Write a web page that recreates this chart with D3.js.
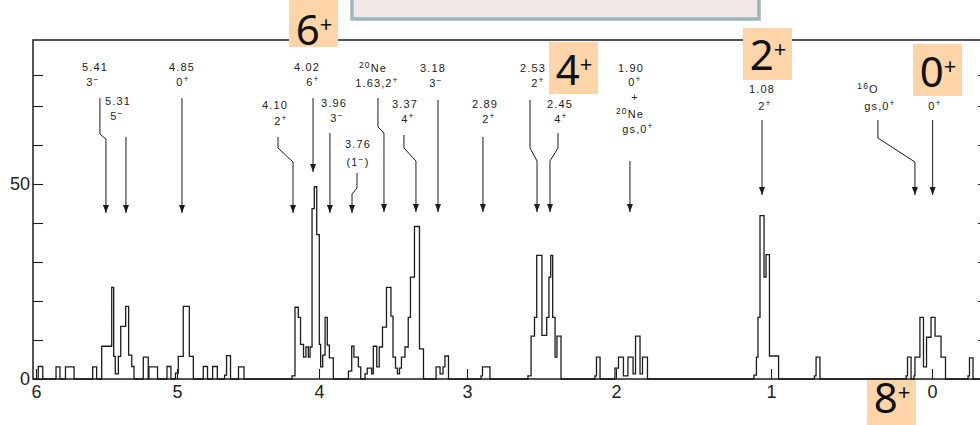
<!DOCTYPE html>
<html><head><meta charset="utf-8">
<script src="https://cdn.jsdelivr.net/npm/d3@7"></script>
<style>body{margin:0;background:#fff;overflow:hidden}</style>
</head><body>
<svg id="c" width="980" height="425"></svg>
<script>
// ---------- DATA ----------
// histogram bin edges (excitation energy, MeV) and counts per bin
const binEdges = [
 6.021, 5.984, 5.952, 5.858, 5.830, 5.791, 5.730, 5.598, 5.570, 5.534,
 5.463, 5.449, 5.438, 5.416, 5.399, 5.364, 5.343, 5.321, 5.305, 5.239,
 5.204, 5.199, 5.138, 5.071, 5.043, 5.011, 4.991, 4.956, 4.913, 4.885,
 4.815, 4.785, 4.749, 4.716, 4.665, 4.651, 4.623, 4.567, 4.528, 4.190,
 4.169, 4.146, 4.130, 4.109, 4.092, 4.075, 4.063, 4.049, 4.033, 4.016,
 3.998, 3.989, 3.975, 3.959, 3.944, 3.930, 3.903, 3.801, 3.779, 3.764,
 3.734, 3.718, 3.689, 3.674, 3.644, 3.633, 3.610, 3.593, 3.571, 3.544,
 3.514, 3.500, 3.483, 3.470, 3.456, 3.443, 3.419, 3.397, 3.382, 3.355,
 3.321, 3.294, 3.209, 3.182, 3.162, 3.149, 3.125, 2.906, 2.896, 2.846,
 2.591, 2.570, 2.547, 2.532, 2.497, 2.465, 2.450, 2.438, 2.425, 2.409,
 2.396, 2.369, 2.141, 2.131, 2.107, 2.007, 1.984, 1.952, 1.923, 1.890,
 1.874, 1.845, 1.829, 1.797, 1.110, 1.094, 1.084, 1.071, 1.045, 1.032,
 1.010, 0.953, 0.730, 0.720, 0.696, 0.161, 0.152, 0.130, 0.112, 0.106,
 0.075, 0.053, 0.034, 0.006, -0.019, -0.056, -0.084, -0.224, -0.233, -0.255,
 -0.348
];
const counts = [
 0, 3.2, 0, 3.1, 0, 3.1, 0, 3.1, 0, 8.4,
 23.5, 5.8, 1.3, 5.8, 13.5, 18.6, 6.1, 3.2, 0, 5.6,
 0, 3.1, 0, 3.2, 0, 1.5, 5.8, 18.6, 5.8, 0,
 3.2, 0, 3.2, 0, 1.0, 6.0, 0, 3.1, 0, 0.8,
 18.4, 15.8, 8.9, 5.6, 8.2, 5.6, 8.2, 43.7, 49.3, 37.0,
 8.9, 3.1, 6.1, 15.8, 8.7, 5.4, 0, 2.0, 8.4, 5.6,
 3.1, 0, 1.3, 2.8, 1.3, 8.4, 3.1, 8.2, 13.3, 23.5,
 16.1, 5.6, 2.8, 1.3, 2.8, 5.6, 8.2, 15.8, 26.1, 39.1,
 7.7, 0, 3.1, 1.3, 3.1, 5.9, 0, 0.8, 3.1, 0,
 0.8, 11.0, 15.8, 31.7, 11.2, 15.8, 26.1, 31.7, 15.8, 5.6,
 11.0, 0, 0.8, 5.6, 0, 2.8, 5.6, 0.8, 5.6, 1.3,
 11.0, 1.3, 5.6, 0, 1.0, 5.6, 15.8, 41.9, 26.1, 31.9,
 5.9, 0, 0.8, 5.6, 0, 0.8, 5.6, 0, 0.8, 5.6,
 15.8, 3.1, 10.7, 15.8, 11.0, 5.6, 0, 0.8, 5.4, 0
];
const energyTicks = [6, 5, 4, 3, 2, 1, 0];
const countTicks = [0, 10, 20, 30, 40, 50, 60, 70, 80];
const countTickLabels = [0, 50];
// level annotations: text lines ({..} = superscript) and energy the arrow points at
const stateText = [
 ["5.41", "3{−}"], ["5.31", "5{−}"], ["4.85", "0{+}"], ["4.10", "2{+}"],
 ["4.02", "6{+}"], ["3.96", "3{−}"], ["3.76", "(1{−})"], ["{20}Ne", "1.63,2{+}"],
 ["3.37", "4{+}"], ["3.18", "3{−}"], ["2.89", "2{+}"], ["2.53", "2{+}"],
 ["2.45", "4{+}"], ["1.90", "0{+}", "+", "{20}Ne", "gs,0{+}"], ["1.08", "2{+}"],
 ["{16}O", "gs,0{+}"], ["0{+}"]
];
const stateArrowE = [5.504, 5.362, 4.965, 4.183, 4.042, 3.926, 3.777, 3.561,
 3.345, 3.196, 2.893, 2.530, 2.443, 1.910, 1.058, 0.106, -0.004];
const bandSpins = ["6", "4", "2", "0", "8"];

// ---------- LAYOUT ----------
const L = 33, R = 988, T = 40, B = 379;
const labelLayout = [
 {cx:[95,93],  y:[71,86],  dx:-6, ys:[98,134,139,213]},
 {cx:[118,117],y:[105,120],dx:0,  ys:[137,213]},
 {cx:[182,183],y:[71,86],  dx:0,  ys:[98,213]},
 {cx:[275,281],y:[109,125],dx:-15,ys:[137,148,162,213]},
 {cx:[307,313],y:[71,86],  dx:0,  ys:[98,172]},
 {cx:[334,337],y:[107,122],dx:0,  ys:[133,213]},
 {cx:[358,358],y:[148,166],dx:5,  ys:[173,188,194,213]},
 {cx:[373,377],y:[72,87],  dx:-6, ys:[98,127,133,212]},
 {cx:[405,408],y:[108,123],dx:-12,ys:[135,148,161,212]},
 {cx:[433,436],y:[72,87],  dx:0,  ys:[100,212]},
 {cx:[485,489],y:[108,123],dx:0,  ys:[137,212]},
 {cx:[533,538],y:[72,87],  dx:-7, ys:[100,148,161,212]},
 {cx:[560,561],y:[108,123],dx:8,  ys:[133,148,161,212]},
 {cx:[631,635,635,630,638],y:[72,86,101,118,133],dx:0,ys:[161,212]},
 {cx:[762,765],y:[93,110], dx:0,  ys:[120,195]},
 {cx:[868,880],y:[93,110], dx:-37,ys:[120,138,162,195]},
 {cx:[935],    y:[110],    dx:0,  ys:[120,195]}
];
const badgeLayout = [
 {x:289, y:-5,  base:45},
 {x:549, y:42,  base:85},
 {x:743, y:28,  base:70},
 {x:913, y:44,  base:87},
 {x:867, y:380, base:413}
];

const svg = d3.select('#c');
const x = d3.scaleLinear()
  .domain([6.021, 6, 5, 4, 3, 2, 1, 0, -0.348])
  .range([L, 36, 177, 319, 467, 616, 771, 932, R]);
const y = d3.scaleLinear()
  .domain([0, 70, 80, 91])
  .range([B, 106, 75, T]);

const ink = '#1c1c1c';

// histogram
const pts = counts.map((c, i) => [binEdges[i], c]);
pts.push([binEdges[binEdges.length - 1], 0]);
const line = d3.line().x(d => x(d[0])).y(d => y(d[1])).curve(d3.curveStepAfter);
svg.append('path').attr('d', line(pts)).attr('fill', 'none')
  .attr('stroke', ink).attr('stroke-width', 1.3).attr('stroke-linejoin', 'miter');

// axes
const fontAxis = '"Liberation Sans", Arial, sans-serif';
const xAxis = d3.axisBottom(x).tickValues(energyTicks).tickSizeInner(-10).tickSizeOuter(0)
  .tickPadding(6).tickFormat(d3.format('d'));
const gx = svg.append('g').attr('transform', `translate(0,${B})`).call(xAxis);
gx.select('.domain').remove();
gx.selectAll('line').attr('stroke', ink).attr('stroke-width', 1.1);
gx.selectAll('text').attr('font-family', fontAxis).attr('font-size', 18).attr('fill', '#222');

const yAxis = d3.axisLeft(y).tickValues(countTicks).tickSizeInner(-10).tickSizeOuter(0)
  .tickPadding(3).tickFormat(d => countTickLabels.includes(d) ? d : '');
const gy = svg.append('g').attr('transform', `translate(${L},0)`).call(yAxis);
gy.select('.domain').remove();
gy.selectAll('line').attr('stroke', ink).attr('stroke-width', 1.1);
gy.selectAll('text').attr('font-family', fontAxis).attr('font-size', 18).attr('fill', '#222');

const yAxisR = d3.axisRight(y).tickValues(countTicks.slice(1)).tickSizeInner(-10).tickSizeOuter(0)
  .tickFormat('');
const gyr = svg.append('g').attr('transform', `translate(${R},0)`).call(yAxisR);
gyr.select('.domain').remove();
gyr.selectAll('line').attr('stroke', ink).attr('stroke-width', 1.1);

// frame
svg.append('path')
  .attr('d', `M${L},${B} L${L},${T} L${R},${T} L${R},${B} Z`)
  .attr('fill', 'none').attr('stroke', ink).attr('stroke-width', 1.5);

// arrow marker
svg.append('defs').append('marker')
  .attr('id', 'ah').attr('viewBox', '0 0 8 6').attr('refX', 8).attr('refY', 3)
  .attr('markerWidth', 8).attr('markerHeight', 6).attr('markerUnits', 'userSpaceOnUse')
  .attr('orient', 'auto')
  .append('path').attr('d', 'M0,0 L8,3 L0,6 Z').attr('fill', ink);

// rich text helper
function rich(t, str, supSize, shift) {
  const parts = str.split(/\{([^}]*)\}/);
  let up = false;
  parts.forEach((p, i) => {
    if (!p) return;
    const sup = i % 2 === 1;
    const ts = t.append('tspan').text(p);
    if (sup) { ts.attr('font-size', supSize); if (!up) ts.attr('dy', -shift); up = true; }
    else if (up) { ts.attr('dy', shift); up = false; }
  });
}

const fontLab = '"Liberation Sans", Arial, sans-serif';
stateText.forEach((lines, i) => {
  const lay = labelLayout[i];
  const tx = x(stateArrowE[i]);
  const ys = lay.ys;
  const p = d3.path();
  if (ys.length === 4) {
    p.moveTo(tx + lay.dx, ys[0]); p.lineTo(tx + lay.dx, ys[1]);
    p.lineTo(tx, ys[2]); p.lineTo(tx, ys[3]);
  } else {
    p.moveTo(tx, ys[0]); p.lineTo(tx, ys[1]);
  }
  svg.append('path').attr('d', p.toString()).attr('fill', 'none')
    .attr('stroke', ink).attr('stroke-width', 1).attr('marker-end', 'url(#ah)');
  lines.forEach((s, j) => {
    const t = svg.append('text').attr('x', lay.cx[j]).attr('y', lay.y[j])
      .attr('text-anchor', 'middle').attr('font-family', fontLab)
      .attr('font-size', 11).attr('letter-spacing', 1.1).attr('fill', '#222');
    rich(t, s, 8.5, 4);
  });
});

// top grey box
svg.append('rect').attr('x', 352).attr('y', -10).attr('width', 407).attr('height', 29)
  .attr('fill', '#F1E8E8').attr('stroke', '#9DB6BB').attr('stroke-width', 3.5);

// spin badges
bandSpins.forEach((s, i) => {
  const b = badgeLayout[i];
  svg.append('rect').attr('x', b.x).attr('y', b.y).attr('width', 49).attr('height', 52)
    .attr('fill', '#FDD5A9');
  const t = svg.append('text').attr('x', b.x + 25).attr('y', b.base)
    .attr('text-anchor', 'middle').attr('font-family', '"Noto Sans", sans-serif')
    .attr('font-size', 42).attr('fill', '#111');
  t.append('tspan').text(s);
  t.append('tspan').text('+').attr('font-size', 22).attr('dy', -13);
});
</script>
</body></html>
